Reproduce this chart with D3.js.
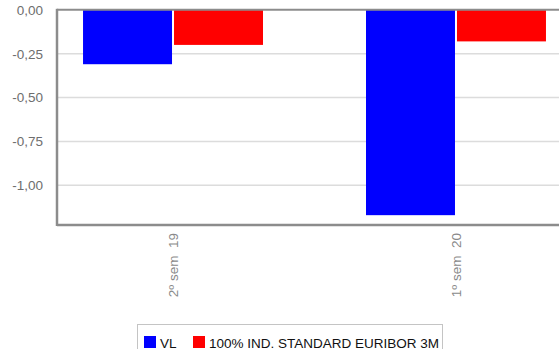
<!DOCTYPE html>
<html>
<head>
<meta charset="utf-8">
<script src="https://cdn.jsdelivr.net/npm/d3@7"></script>
<style>
  html, body { margin: 0; padding: 0; background: #fff; }
  svg { display: block; font-family: "Liberation Sans", Arial, sans-serif; }
</style>
</head>
<body>
<svg id="chart" width="559" height="349"></svg>
<script>
// Half-year periods and the two return series (in %)
const categories = ["2º sem  19", "1º sem  20"];
const seriesNames = ["VL", "100% IND. STANDARD EURIBOR 3M"];
const seriesColors = ["#0000ff", "#ff0000"];
const vlValues = [-0.31, -1.17];
const benchmarkValues = [-0.20, -0.18];
const yTicks = [0, -0.25, -0.5, -0.75, -1.0];
const yMin = -1.226;

const svg = d3.select("#chart");
const plot = { left: 57, right: 572, top: 9.8, bottom: 225 };
const FONT = "'Liberation Sans', Arial, sans-serif";
const FS = 13.5;

const rows = categories.map((c, i) => ({
  cat: c,
  values: [vlValues[i], benchmarkValues[i]]
}));

const y = d3.scaleLinear().domain([yMin, 0]).range([plot.bottom, plot.top]);
const x0 = d3.scaleBand().domain(categories)
  .range([plot.left, plot.right])
  .paddingInner(0.364).paddingOuter(0.092);
const x1 = d3.scaleBand().domain(d3.range(seriesNames.length))
  .range([0, x0.bandwidth()])
  .paddingInner(0.022);

// Horizontal grid lines
svg.append("g")
  .selectAll("line")
  .data(yTicks.filter(t => t !== 0))
  .join("line")
  .attr("x1", plot.left).attr("x2", plot.right)
  .attr("y1", d => y(d)).attr("y2", d => y(d))
  .attr("stroke", "#dcdcdc").attr("stroke-width", 1.5);

// Bars
svg.append("g")
  .selectAll("g")
  .data(rows)
  .join("g")
  .attr("transform", d => `translate(${x0(d.cat)},0)`)
  .selectAll("rect")
  .data(d => d.values.map((v, i) => ({ v, i })))
  .join("rect")
  .attr("x", d => x1(d.i))
  .attr("width", x1.bandwidth())
  .attr("y", d => y(Math.max(0, d.v)))
  .attr("height", d => Math.abs(y(d.v) - y(0)))
  .attr("fill", d => seriesColors[d.i]);

// Plot frame: top (zero line), left and bottom edges
const frame = svg.append("g").attr("stroke", "#8c8c8c").attr("fill", "none");
frame.append("line").attr("x1", plot.left).attr("x2", plot.right)
  .attr("y1", y(0)).attr("y2", y(0)).attr("stroke-width", 2);
frame.append("line").attr("x1", plot.left).attr("x2", plot.left)
  .attr("y1", y(0) - 1).attr("y2", plot.bottom + 1).attr("stroke-width", 2.5);
frame.append("line").attr("x1", plot.left).attr("x2", plot.right)
  .attr("y1", plot.bottom).attr("y2", plot.bottom).attr("stroke-width", 2.5);

// Y axis labels
const fmt = v => d3.format(".2f")(v).replace("−", "-").replace(".", ",");
const yAxis = d3.axisLeft(y).tickValues(yTicks).tickSize(0).tickPadding(14)
  .tickFormat(fmt);
const gy = svg.append("g").attr("transform", `translate(${plot.left},0)`).call(yAxis);
gy.select(".domain").remove();
gy.selectAll("text")
  .attr("fill", "#6e6e6e").attr("font-size", FS)
  .attr("font-family", FONT);

// X axis labels (rotated)
const xAxis = d3.axisBottom(x0).tickSize(0).tickPadding(0);
const gx = svg.append("g").attr("transform", `translate(0,${plot.bottom})`).call(xAxis);
gx.select(".domain").remove();
gx.selectAll("text")
  .attr("fill", "#8a8a8a").attr("font-size", FS)
  .attr("font-family", FONT)
  .style("white-space", "pre")
  .attr("text-anchor", "end")
  .attr("dy", "0.35em")
  .attr("x", -8).attr("y", 0)
  .attr("transform", "rotate(-90)");

// Legend
const legend = svg.append("g");
legend.append("rect")
  .attr("x", 137.5).attr("y", 324.5).attr("width", 305).attr("height", 40)
  .attr("fill", "#fff").attr("stroke", "#c4c4c4").attr("stroke-width", 1);
const itemX = [144, 193];
seriesNames.forEach((name, i) => {
  legend.append("rect")
    .attr("x", itemX[i]).attr("y", 336).attr("width", 12).attr("height", 12)
    .attr("fill", seriesColors[i]);
  legend.append("text")
    .attr("x", itemX[i] + 16).attr("y", 347.5)
    .attr("font-size", FS).attr("fill", "#111")
    .attr("font-family", FONT)
    .text(name);
});
</script>
</body>
</html>
